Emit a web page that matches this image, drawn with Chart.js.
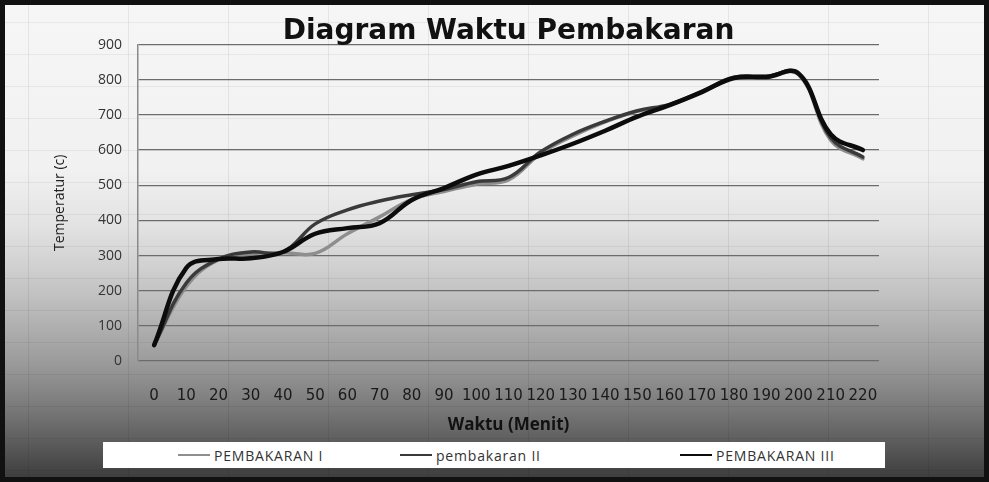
<!DOCTYPE html>
<html>
<head>
<meta charset="utf-8">
<script src="https://cdn.jsdelivr.net/npm/chart.js@4"></script>
<style>
  html, body { margin: 0; padding: 0; background: #fff; }
  #frame {
    position: relative;
    width: 979px;
    height: 472px;
    border: 5px solid #111;
    background:
      repeating-linear-gradient(to right, transparent 0 23px, rgba(0,0,0,0.07) 23px 24px, transparent 24px 100px),
      repeating-linear-gradient(to bottom, transparent 0 17px, rgba(0,0,0,0.06) 17px 18px, transparent 18px 32px),
      linear-gradient(to bottom, #f6f6f6 0%, #f1f1f1 35%, #e2e2e2 47%, #cfcfcf 56%, #b0b0b0 68%, #9a9a9a 76%, #7e7e7e 84%, #636363 91%, #3e3e3e 100%);
  }
  #chart { position: absolute; left: 0; top: 0; }
  #legend {
    position: absolute;
    left: 98px; top: 437px;
    width: 782px; height: 26px;
    background: #fff;
    font-family: "Open Sans", sans-serif;
    font-size: 14px;
    color: #333;
  }
  .item { position: absolute; top: 0; height: 26px; display: flex; align-items: center; letter-spacing: 0.8px; }
  .item span.line { display: inline-block; width: 32px; height: 2px; margin-right: 4px; }
</style>
</head>
<body>
<div id="frame">
  <canvas id="chart" width="979" height="472"></canvas>
  <div id="legend"></div>
</div>
<script>
// Waktu pembakaran (menit)
const waktu = ['0','10','20','30','40','50','60','70','80','90','100','110','120','130','140','150','160','170','180','190','200','210','220'];

const pembakaran1 = [45, 212, 288, 305, 308, 306, 362, 410, 460, 482, 503, 515, 590, 640, 680, 710, 728, 765, 805, 808, 815, 628, 575];
const pembakaran2 = [45, 222, 290, 310, 310, 390, 430, 455, 473, 488, 510, 522, 595, 645, 682, 712, 730, 767, 807, 810, 818, 635, 580];
const pembakaran3 = [45, 265, 290, 292, 310, 362, 378, 392, 458, 492, 530, 555, 585, 618, 655, 695, 728, 765, 805, 808, 818, 645, 600];

const seriesLabels = ['PEMBAKARAN  I', 'pembakaran II', 'PEMBAKARAN  III'];
const seriesColors = ['#8e8e8e', '#3a3a3a', '#0c0c0c'];
const legendLeft = [75, 297, 577];

document.addEventListener("DOMContentLoaded", function () {
  const ctx = document.getElementById('chart').getContext('2d');
  const chart = new Chart(ctx, {
    type: 'line',
    data: {
      labels: waktu,
      datasets: [
        { label: seriesLabels[0], data: pembakaran1, borderColor: seriesColors[0], borderWidth: 3.5, order: 3 },
        { label: seriesLabels[1], data: pembakaran2, borderColor: seriesColors[1], borderWidth: 3.5, order: 2 },
        { label: seriesLabels[2], data: pembakaran3, borderColor: seriesColors[2], borderWidth: 4.5, order: 1 }
      ]
    },
    options: {
      responsive: false,
      animation: false,
      elements: {
        point: { radius: 0 },
        line: { tension: 0.4, fill: false, borderCapStyle: 'round', borderJoinStyle: 'round' }
      },
      layout: { padding: { left: 0, right: 105, top: 0, bottom: 0 } },
      plugins: {
        legend: { display: false },
        tooltip: { enabled: false },
        title: {
          display: true,
          fullSize: false,
          text: 'Diagram Waktu Pembakaran',
          color: '#111',
          font: { family: 'DejaVu Sans', size: 28, weight: 'bold' },
          padding: { top: 10, bottom: -4 }
        }
      },
      scales: {
        x: {
          offset: true,
          grid: { display: false, drawTicks: false },
          border: { display: false },
          ticks: {
            autoSkip: false, maxRotation: 0, minRotation: 0, padding: 26,
            color: '#1a1a1a',
            font: { family: 'DejaVu Sans', size: 15 }
          },
          title: {
            display: true, text: 'Waktu (Menit)', color: '#111',
            font: { family: 'Open Sans', size: 17, weight: 'bold' },
            padding: { top: 0, bottom: 42 }
          },
          afterFit: (scale) => { scale.height = 116; }
        },
        y: {
          min: 0, max: 900,
          ticks: {
            stepSize: 100, padding: 16, color: '#333',
            font: { family: 'Open Sans', size: 14 }
          },
          grid: { color: '#6c6c6c', lineWidth: 1.3, drawTicks: false },
          border: { display: true, color: '#8a8a8a', width: 1.5 },
          title: {
            display: true, text: 'Temperatur (c)', color: '#222',
            font: { family: 'Open Sans', size: 14 },
            padding: { top: 47, bottom: 0 }
          },
          afterFit: (scale) => { scale.width = 133; }
        }
      }
    }
  });

  // legend in a white strip, like the spreadsheet one
  const legend = document.getElementById('legend');
  chart.data.datasets.forEach((ds, i) => {
    const item = document.createElement('div');
    item.className = 'item';
    item.style.left = legendLeft[i] + 'px';
    const line = document.createElement('span');
    line.className = 'line';
    line.style.background = ds.borderColor;
    const text = document.createElement('span');
    text.textContent = ds.label;
    item.appendChild(line);
    item.appendChild(text);
    legend.appendChild(item);
  });
});
</script>
</body>
</html>
